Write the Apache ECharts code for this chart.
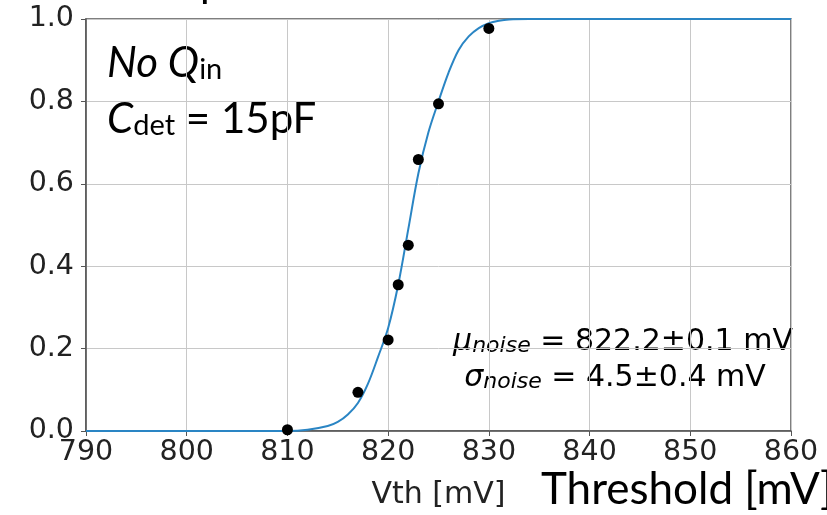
<!DOCTYPE html>
<html>
<head>
<meta charset="utf-8">
<script src="https://cdn.jsdelivr.net/npm/echarts@6/dist/echarts.min.js"></script>
<style>
  html, body { margin: 0; padding: 0; background: #fff; }
  #chart { width: 827px; height: 515px; }
</style>
</head>
<body>
<div id="chart"></div>
<script>
// measured points (threshold scan)
const thresholds = [810, 817, 820, 821, 822, 823, 825, 830]
const efficiency = [0.003, 0.094, 0.221, 0.355, 0.451, 0.659, 0.794, 0.977]

// fitted curve
const fitX = [790, 800, 810, 812, 814, 815, 816, 817, 818, 819, 820, 821, 822, 823, 824, 825, 826, 827, 828, 829, 830, 831, 832, 834, 840, 850, 860]
const fitY = [0, 0, 0, 0.003, 0.012, 0.022, 0.04, 0.068, 0.115, 0.18, 0.25, 0.355, 0.49, 0.625, 0.725, 0.8, 0.87, 0.925, 0.958, 0.978, 0.99, 0.996, 0.999, 1, 1, 1, 1]

const xTicks = [790, 800, 810, 820, 830, 840, 850, 860]
const yTicks = ['0.0', '0.2', '0.4', '0.6', '0.8', '1.0']

const chart = echarts.init(document.getElementById('chart'))

const tickFont = { fontFamily: 'DejaVu Sans', fontSize: 28.5, color: '#222' }
const ink = '#222'

// mathtext-like rich styles for the fit result box
const fitRich = {
  g: { fontFamily: 'DejaVu Sans', fontStyle: 'italic', fontSize: 30, color: ink, lineHeight: 38, verticalAlign: 'bottom' },
  s: { fontFamily: 'DejaVu Sans', fontStyle: 'italic', fontSize: 22, color: ink, lineHeight: 19, verticalAlign: 'bottom' },
  n: { fontFamily: 'DejaVu Sans', fontSize: 30, color: ink, lineHeight: 38, verticalAlign: 'bottom' }
}

const option = {
  backgroundColor: '#fff',
  animation: false,
  grid: {
    left: 86, right: 36, top: 19, bottom: 83,
    show: true,
    borderColor: '#555',
    borderWidth: 1.5
  },
  xAxis: {
    type: 'value',
    min: xTicks[0],
    max: xTicks[xTicks.length - 1],
    interval: 10,
    name: 'Vth [mV]',
    nameLocation: 'middle',
    nameGap: 49,
    nameTextStyle: { fontFamily: 'DejaVu Sans', fontSize: 30, color: ink },
    axisLine: { lineStyle: { color: '#555', width: 1.5 } },
    axisTick: { show: true, length: 5, lineStyle: { color: '#555' } },
    axisLabel: { ...tickFont, margin: 7 },
    splitLine: { show: true, lineStyle: { color: '#c8c8c8', width: 1 } }
  },
  yAxis: {
    type: 'value',
    min: 0,
    max: 1,
    interval: 0.2,
    axisLine: { show: true, lineStyle: { color: '#555', width: 1.5 } },
    axisTick: { show: true, length: 5, lineStyle: { color: '#555' } },
    axisLabel: {
      ...tickFont,
      margin: 12,
      formatter: v => yTicks[Math.round(v * 5)]
    },
    splitLine: { show: true, lineStyle: { color: '#c8c8c8', width: 1 } }
  },
  series: [
    {
      type: 'line',
      data: fitX.map((x, i) => [x, fitY[i]]),
      smooth: 0.35,
      showSymbol: false,
      lineStyle: { color: '#2a85c4', width: 2 },
      z: 2
    },
    {
      type: 'scatter',
      data: thresholds.map((x, i) => [x, efficiency[i]]),
      symbol: 'circle',
      symbolSize: 11,
      itemStyle: { color: '#000', opacity: 1 },
      z: 3
    }
  ],
  graphic: [
    {
      type: 'text', left: 107, top: 42,
      style: {
        text: '{i|No Q}{s|in}',
        rich: {
          i: { fontFamily: 'Lato', fontStyle: 'italic', fontSize: 42, color: '#000', lineHeight: 42, verticalAlign: 'bottom' },
          s: { fontFamily: 'Lato', fontSize: 29, color: '#000', lineHeight: 14, verticalAlign: 'bottom' }
        }
      }
    },
    {
      type: 'text', left: 107, top: 98,
      style: {
        text: '{i|C}{s|det}{n| = 15pF}',
        rich: {
          i: { fontFamily: 'Lato', fontStyle: 'italic', fontSize: 42, color: '#000', lineHeight: 42, verticalAlign: 'bottom' },
          s: { fontFamily: 'Lato', fontSize: 29, color: '#000', lineHeight: 14, verticalAlign: 'bottom' },
          n: { fontFamily: 'Lato', fontSize: 42, color: '#000', lineHeight: 42, verticalAlign: 'bottom' }
        }
      }
    },
    {
      type: 'text', x: 623, y: 319,
      style: { text: '{g|μ}{s|noise}{n| = 822.2±0.1 mV}', align: 'center', rich: fitRich }
    },
    {
      type: 'text', x: 615, y: 355,
      style: { text: '{g|σ}{s|noise}{n| = 4.5±0.4 mV}', align: 'center', rich: fitRich }
    },
    {
      type: 'text', left: 541, top: 468,
      style: { text: 'Threshold [mV]', fontFamily: 'Lato', fontSize: 44, fill: '#000' }
    },
    {
      type: 'text', x: 200, y: -17,
      style: { text: 'p', fontFamily: 'Lato', fontSize: 42, fill: '#000', verticalAlign: 'middle' }
    }
  ]
}

chart.setOption(option)
</script>
</body>
</html>
